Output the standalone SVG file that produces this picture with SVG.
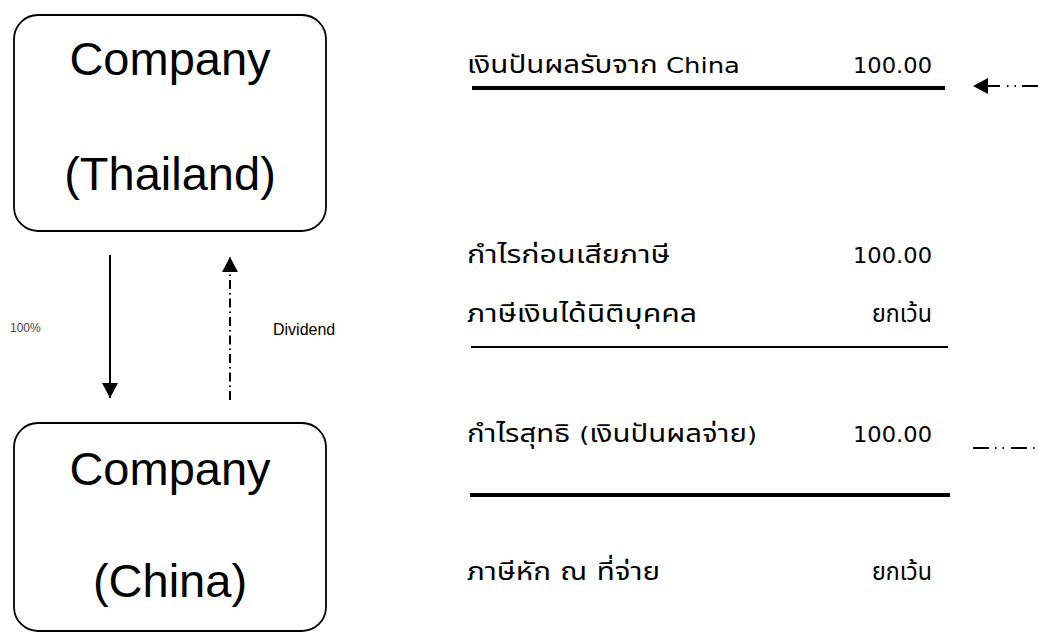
<svg xmlns="http://www.w3.org/2000/svg" width="1038" height="634" viewBox="0 0 1038 634">
<style>
.box{fill:#fff;stroke:#000;stroke-width:1.8}
.big{font-family:"Liberation Sans",Arial,sans-serif;font-size:47px;fill:#000;text-anchor:middle}
.th{font-family:"DejaVu Sans","Noto Sans Thai","Noto Sans",sans-serif;font-size:25px;fill:#000}
.num{font-size:22px}
.rule{stroke:#000}
</style>
<defs>
<marker id="ah" markerWidth="16" markerHeight="16" refX="15" refY="8" orient="auto" markerUnits="userSpaceOnUse">
<path d="M0,0 L15,8 L0,16 Z" fill="#000"/>
</marker>
</defs>
<rect width="1038" height="634" fill="#fff"/>
<g id="thailand">
<rect class="box" x="14" y="15" width="312" height="216" rx="24" ry="24"/>
<text class="big" x="170" y="75">Company</text>
<text class="big" x="170" y="190">(Thailand)</text>
</g>
<g id="china">
<rect class="box" x="14" y="423" width="312" height="208" rx="24" ry="24"/>
<text class="big" x="170" y="485">Company</text>
<text class="big" x="170" y="597">(China)</text>
</g>
<g id="connectors" fill="none" stroke="#000">
<line x1="110" y1="255" x2="110" y2="398" stroke-width="2" marker-end="url(#ah)"/>
<line x1="230" y1="400" x2="230" y2="257" stroke-width="2" stroke-dasharray="9,4,1.5,4" marker-end="url(#ah)"/>
<line x1="1038" y1="86" x2="973" y2="86" stroke-width="2" stroke-dasharray="16,6,1.5,6,1.5,7" marker-end="url(#ah)"/>
<line x1="973" y1="448" x2="1038" y2="448" stroke-width="2" stroke-dasharray="16,6,1.5,6,1.5,7"/>
</g>
<g id="labels">
<text x="10" y="332" font-family="'Liberation Sans',Arial,sans-serif" font-size="12" fill="#444">100%</text>
<text x="273" y="335" font-family="'Liberation Sans',Arial,sans-serif" font-size="16" fill="#000">Dividend</text>
</g>
<g id="statement">
<text class="th" x="467" y="73" textLength="273" lengthAdjust="spacingAndGlyphs">เงินปันผลรับจาก<tspan font-size="22px"> China</tspan></text>
<text class="th num" x="853" y="73" textLength="79" lengthAdjust="spacingAndGlyphs">100.00</text>
<line class="rule" x1="472" y1="88" x2="945" y2="88" stroke-width="4"/>
<text class="th" x="467" y="263" textLength="203" lengthAdjust="spacingAndGlyphs">กำไรก่อนเสียภาษี</text>
<text class="th num" x="853" y="263" textLength="79" lengthAdjust="spacingAndGlyphs">100.00</text>
<text class="th" x="467" y="322" textLength="230" lengthAdjust="spacingAndGlyphs">ภาษีเงินได้นิติบุคคล</text>
<text class="th" x="872" y="322" textLength="60" lengthAdjust="spacingAndGlyphs">ยกเว้น</text>
<line class="rule" x1="471" y1="347" x2="948" y2="347" stroke-width="2"/>
<text class="th" x="467" y="442" textLength="290" lengthAdjust="spacingAndGlyphs">กำไรสุทธิ <tspan font-size="22px">(</tspan>เงินปันผลจ่าย<tspan font-size="22px">)</tspan></text>
<text class="th num" x="853" y="442" textLength="79" lengthAdjust="spacingAndGlyphs">100.00</text>
<line class="rule" x1="470" y1="495" x2="950" y2="495" stroke-width="4"/>
<text class="th" x="467" y="580" textLength="193" lengthAdjust="spacingAndGlyphs">ภาษีหัก ณ ที่จ่าย</text>
<text class="th" x="872" y="580" textLength="60" lengthAdjust="spacingAndGlyphs">ยกเว้น</text>
</g>
</svg>
